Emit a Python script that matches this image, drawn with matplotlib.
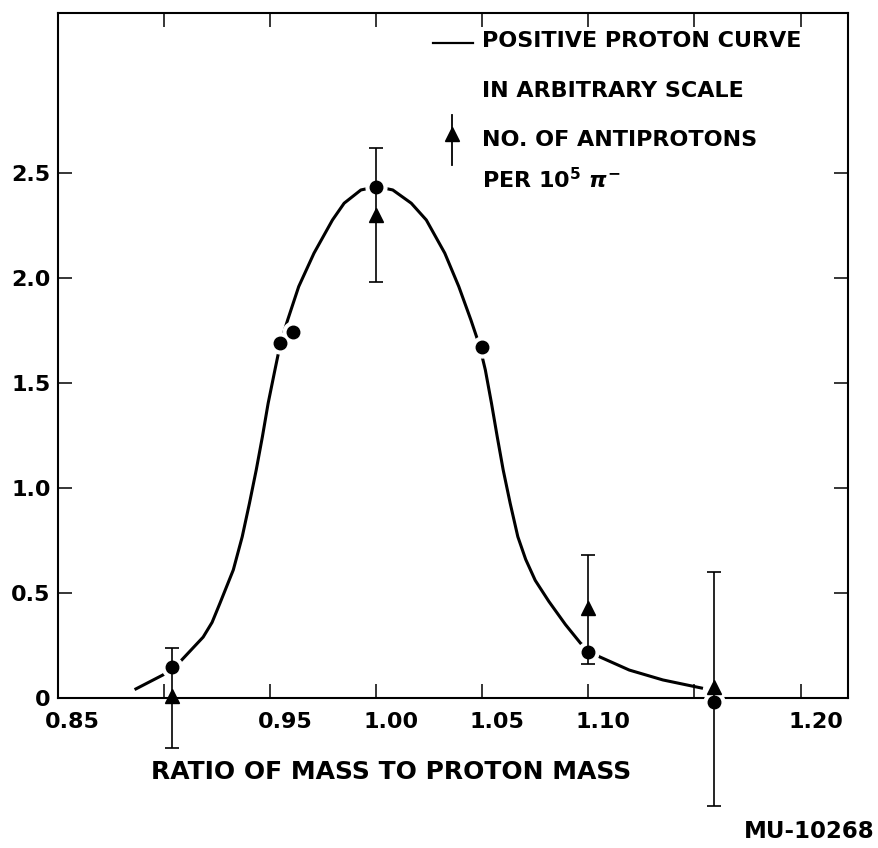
import matplotlib
matplotlib.use("Agg")
import matplotlib.pyplot as plt
from matplotlib.lines import Line2D
from matplotlib.transforms import ScaledTranslation

plt.rcParams['font.family'] = ['DejaVu Sans']
plt.rcParams['font.weight'] = 'bold'

# ---- data ----
# smooth "positive proton" curve (arbitrary scale)
curve_x = [0.8863, 0.8997, 0.9084, 0.9186, 0.9228, 0.9265, 0.9328, 0.9370,
           0.9404, 0.9436, 0.9465, 0.9492, 0.9524, 0.9550, 0.9584, 0.9636,
           0.9708, 0.9795, 0.9850, 0.9929, 1.0005, 1.0079, 1.0166, 1.0237,
           1.0324, 1.0390, 1.0447, 1.0487, 1.0515, 1.0544, 1.0571, 1.0599,
           1.0632, 1.0668, 1.0705, 1.0750, 1.0814, 1.0892, 1.0964, 1.1051,
           1.1193, 1.1351, 1.1540]
curve_y = [0.040, 0.110, 0.180, 0.290, 0.360, 0.451, 0.610, 0.768,
           0.927, 1.086, 1.244, 1.403, 1.562, 1.689, 1.800, 1.959,
           2.118, 2.276, 2.356, 2.419, 2.435, 2.419, 2.356, 2.276,
           2.118, 1.959, 1.800, 1.680, 1.562, 1.403, 1.244, 1.086,
           0.927, 0.768, 0.660, 0.560, 0.460, 0.350, 0.260, 0.197,
           0.133, 0.086, 0.046]

# positive proton measured points (circles)
proton_x = [0.904, 0.955, 0.961, 1.000, 1.0498, 1.100, 1.159]
proton_y = [0.146, 1.689, 1.741, 2.435, 1.673, 0.22, -0.018]

# antiprotons per 1e5 pi- (triangles) with error bar bounds
anti_x = [0.904, 1.000, 1.100, 1.159]
anti_y = [0.01, 2.30, 0.43, 0.05]
anti_lo = [-0.24, 1.98, 0.162, -0.514]
anti_hi = [0.237, 2.617, 0.681, 0.601]

xticks = [0.85, 0.90, 0.95, 1.00, 1.05, 1.10, 1.15, 1.20]
xticklabels = ['0.85', '', '0.95', '1.00', '1.05', '1.10', '', '1.20']
yticks = [0.0, 0.5, 1.0, 1.5, 2.0, 2.5]
yticklabels = ['0', '0.5', '1.0', '1.5', '2.0', '2.5']

legend_lines = ['POSITIVE PROTON CURVE', 'IN ARBITRARY SCALE',
                'NO. OF ANTIPROTONS', r'PER 10$^{5}$ $\pi^{-}$']
xlabel_text = 'RATIO OF MASS TO PROTON MASS'
figure_id = 'MU-10268'

# ---- figure ----
W, H = 879, 848
fig = plt.figure(figsize=(W / 100, H / 100), dpi=100)
ax = fig.add_axes([57.5 / W, 1 - 698 / H, (848 - 57.5) / W, (698 - 12.7) / H])
ax.set_xlim(0.85, 1.2223)
ax.set_ylim(0, 3.263)

for s in ax.spines.values():
    s.set_linewidth(1.5)

ax.plot(curve_x, curve_y, color='black', lw=2.2, zorder=2, clip_on=False,
        solid_capstyle='butt', solid_joinstyle='round')

# white halos around the circles (break the curve as in the drawing)
ax.plot(proton_x, proton_y, ls='none', marker='o', ms=15, color='white',
        mec='white', zorder=3, clip_on=False)

err_lo = [y - lo for y, lo in zip(anti_y, anti_lo)]
err_hi = [hi - y for y, hi in zip(anti_y, anti_hi)]
eb = ax.errorbar(anti_x, anti_y, yerr=[err_lo, err_hi], fmt='none',
                 ecolor='black', elinewidth=1.2, capsize=5, capthick=1.2,
                 zorder=4)
for art in eb.lines[1]:
    art.set_clip_on(False)
for coll in eb.lines[2]:
    coll.set_clip_on(False)

ax.plot(proton_x, proton_y, ls='none', marker='o', ms=9, color='black',
        zorder=5, clip_on=False)
ax.plot(anti_x, anti_y, ls='none', marker='^', ms=10.5, color='black',
        zorder=5, clip_on=False)

ax.set_xticks(xticks)
ax.set_xticklabels(xticklabels)
ax.set_yticks(yticks)
ax.set_yticklabels(yticklabels)
ax.tick_params(direction='in', length=10, width=1.1, top=True, right=True,
               labelsize=16)
ax.tick_params(axis='x', pad=10)
ax.tick_params(axis='y', pad=5)
offset = ScaledTranslation(0.15, 0, fig.dpi_scale_trans)
for lab in ax.get_xticklabels():
    lab.set_transform(lab.get_transform() + offset)

ax.set_xlabel(xlabel_text, fontsize=18, fontweight='bold')
ax.xaxis.label.set_va('center')
ax.xaxis.set_label_coords((391 - 57.5) / (848 - 57.5), (698 - 772) / (698 - 12.7))

# ---- hand-drawn legend ----
fig.add_artist(Line2D([433 / W, 473 / W], [1 - 43 / H, 1 - 43 / H],
                      color='black', lw=1.6, transform=fig.transFigure))
fig.add_artist(Line2D([452 / W, 452 / W], [1 - 115 / H, 1 - 165 / H],
                      color='black', lw=1.3, transform=fig.transFigure))
fig.add_artist(Line2D([452 / W], [1 - 134 / H], marker='^', ms=10,
                      color='black', ls='none', transform=fig.transFigure))
baselines = [47, 97, 146, 188]
for txt, b in zip(legend_lines, baselines):
    fig.text(482 / W, 1 - b / H, txt, fontsize=16, fontweight='bold',
             ha='left', va='baseline')

fig.text(875 / W, 1 - 831.5 / H, figure_id, fontsize=16.5, fontweight='bold',
         ha='right', va='center')

fig.savefig('out.png', dpi=100)
